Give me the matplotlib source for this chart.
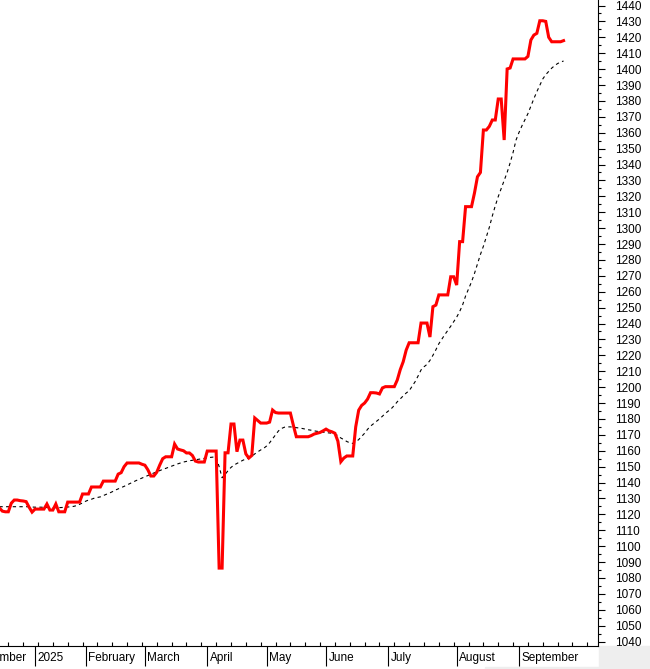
import numpy as np
import matplotlib
matplotlib.use("Agg")
import matplotlib.pyplot as plt
from matplotlib.patches import Rectangle
from matplotlib.ticker import FixedLocator, MultipleLocator, NullFormatter

plt.rcParams["font.family"] = ["Liberation Sans", "DejaVu Sans"]

# daily closes, one per trading session (first one is 12 sessions before 2 Jan 2025)
close = [
    # Dec 2024 (tail)
    1124.0, 1122.0, 1121.6, 1121.6, 1127.0, 1129.0, 1129.0, 1128.6, 1128.4, 1128.0, 1124.5, 1121.4,
    # Jan
    1123.3, 1123.3, 1123.3, 1123.3, 1126.5, 1122.7, 1122.7, 1126.5, 1121.6, 1121.6, 1121.6, 1127.7,
    1127.7, 1127.7, 1127.7, 1127.7, 1132.8,
    # Feb
    1132.8, 1132.8, 1137.2, 1137.2, 1137.2, 1137.2, 1140.9, 1140.9, 1140.9, 1140.9, 1140.9, 1145.3,
    1146.2, 1150.0, 1152.3, 1152.3, 1152.3, 1152.3, 1152.3, 1151.5,
    # Mar
    1150.9, 1148.0, 1144.1, 1144.1, 1146.5, 1151.0, 1155.0, 1156.2, 1156.2, 1156.2, 1164.2, 1161.1,
    1160.5, 1160.0, 1158.6, 1158.6, 1157.0, 1153.5, 1152.9, 1152.9, 1152.9,
    # Apr
    1159.8, 1159.8, 1159.8, 1159.8, 1086.2, 1086.2, 1158.7, 1158.7, 1176.8, 1176.8, 1159.4, 1166.7,
    1166.7, 1158.0, 1155.4, 1157.0, 1180.6, 1179.0, 1177.4, 1177.4,
    # May
    1177.4, 1178.0, 1185.6, 1184.0, 1183.7, 1183.7, 1183.7, 1183.7, 1183.7, 1176.0, 1168.8, 1168.8,
    1168.8, 1168.8, 1168.8, 1169.5, 1170.5, 1171.0, 1171.5, 1172.5,
    # Jun
    1173.6, 1172.5, 1171.9, 1171.0, 1166.0, 1153.1, 1155.4, 1156.7, 1156.7, 1156.7, 1175.0, 1185.5,
    1188.5, 1190.0, 1192.5, 1196.5, 1196.5, 1196.3, 1195.7, 1199.5, 1200.3,
    # Jul
    1200.3, 1200.3, 1200.3, 1204.5, 1211.0, 1216.0, 1223.3, 1227.9, 1227.9, 1227.9, 1227.9, 1240.3,
    1240.3, 1240.3, 1231.5, 1250.6, 1251.6, 1258.0, 1258.0, 1258.0, 1258.0, 1269.4, 1269.4,
    # Aug
    1264.2, 1291.5, 1291.5, 1313.5, 1313.5, 1313.5, 1322.1, 1332.3, 1335.0, 1361.7, 1361.7, 1364.0,
    1368.0, 1368.0, 1381.2, 1381.2, 1355.4, 1400.1, 1400.7, 1406.4, 1406.4,
    # Sep
    1406.4, 1406.4, 1406.4, 1408.0, 1418.3, 1421.4, 1422.5, 1430.4, 1430.4, 1430.0, 1420.0, 1417.2,
    1417.2, 1417.2, 1417.2, 1417.9,
]

# moving average (dashed line)
ma = [
    1124.8, 1124.8, 1124.8, 1124.8, 1124.8, 1124.8, 1124.8, 1124.8, 1124.8, 1124.8, 1124.8, 1124.6,
    1124.5, 1124.5, 1124.5, 1124.4, 1124.3, 1124.3, 1124.2, 1124.2, 1124.2, 1124.3, 1124.4, 1124.6,
    1124.8, 1125.0, 1125.5, 1126.3, 1127.2,
    1128.2, 1129.0, 1129.5, 1130.2, 1130.6, 1131.0, 1131.8, 1132.6, 1133.3, 1134.2, 1135.2, 1136.0,
    1136.8, 1137.6, 1138.5, 1139.4, 1140.3, 1141.2, 1142.0, 1142.8,
    1143.6, 1144.4, 1145.2, 1146.0, 1146.8, 1147.5, 1148.3, 1148.9, 1149.6, 1150.3, 1151.0, 1151.7,
    1152.3, 1152.9, 1153.3, 1153.7, 1154.0, 1154.3, 1154.6, 1154.9, 1155.2,
    1155.5, 1155.8, 1156.0, 1156.0, 1150.0, 1143.0, 1145.0, 1147.5, 1149.5, 1151.0, 1152.0, 1153.0,
    1154.0, 1154.8, 1155.4, 1156.5, 1158.0, 1159.3, 1160.5, 1161.5,
    1163.0, 1165.0, 1167.5, 1170.0, 1172.5, 1174.0, 1174.8, 1175.0, 1175.0, 1174.8, 1174.5, 1174.3,
    1174.0, 1173.6, 1173.2, 1172.9, 1172.5, 1172.2, 1172.0, 1171.7,
    1171.4, 1171.2, 1171.0, 1170.5, 1169.5, 1168.0, 1167.0, 1165.8, 1165.0, 1164.6, 1165.5, 1167.0,
    1169.0, 1171.0, 1173.5, 1175.5, 1177.0, 1178.5, 1180.0, 1181.7, 1183.5,
    1185.0, 1186.5, 1188.5, 1190.8, 1192.6, 1194.5, 1196.3, 1197.7, 1200.5, 1203.4, 1207.0, 1210.8,
    1212.8, 1214.3, 1216.8, 1220.0, 1223.5, 1227.3, 1230.2, 1233.0, 1235.6, 1238.3, 1241.2,
    1244.0, 1247.5, 1251.7, 1257.3, 1261.7, 1266.2, 1271.5, 1277.5, 1283.4, 1288.6, 1294.5, 1300.5,
    1307.6, 1314.0, 1319.8, 1325.0, 1330.0, 1335.0, 1341.0, 1347.6, 1355.4,
    1360.2, 1364.4, 1368.2, 1372.0, 1376.7, 1381.4, 1385.8, 1389.8, 1393.8, 1396.5, 1398.6, 1400.6,
    1402.2, 1403.5, 1404.4, 1405.1,
]

# month labels and the session index where each month starts
month_labels = ["December", "2025", "February", "March", "April", "May",
                "June", "July", "August", "September"]
month_start = [-22, 0, 17, 37, 58, 78, 98, 119, 142, 163]

days = np.arange(len(close)) - 12

fig = plt.figure(figsize=(6.5, 6.69), dpi=100)
ax = fig.add_axes([0.0, 1 - 646 / 669, 598 / 650, 646 / 669])

ax.plot(days, ma, color="black", lw=0.8, linestyle=(0, (3, 3)))
ax.plot(days, close, color="#ff0000", lw=2.2, solid_joinstyle="miter")

ax.set_xlim(-11.8, 189.6)
ax.set_ylim(1037.2, 1443.46)

for s in ["left", "top"]:
    ax.spines[s].set_visible(False)
for s in ["right", "bottom"]:
    ax.spines[s].set_linewidth(0.8)

# y axis on the right
ax.yaxis.tick_right()
ax.yaxis.set_major_locator(MultipleLocator(10))
ax.yaxis.set_minor_locator(MultipleLocator(5))
ax.tick_params(axis="y", which="major", direction="out", length=5, width=0.8,
               labelsize=8.5, pad=7.5)
ax.tick_params(axis="y", which="minor", direction="out", length=2.5, width=0.8)

# x axis: long separators at month starts, small weekly ticks inside
ax.xaxis.set_major_locator(FixedLocator(month_start))
ax.xaxis.set_major_formatter(NullFormatter())
ax.xaxis.set_minor_locator(FixedLocator(np.arange(-20, 190, 5) + 1))
ax.tick_params(axis="x", which="major", direction="out", length=14.5, width=0.8)
ax.tick_params(axis="x", which="minor", direction="in", length=3, width=0.8)

for lab, pos in zip(month_labels, month_start):
    ax.annotate(lab, xy=(pos, 0), xycoords=("data", "axes fraction"),
                xytext=(1.8, -8.8), textcoords="offset points",
                ha="left", va="center", fontsize=8.5, annotation_clip=False)

# grey panel corner bottom right + thin strip at the bottom
fig.patches.append(Rectangle((599 / 650, 0), 51 / 650, 23 / 669,
                             transform=fig.transFigure, color="#eeeeee", zorder=-1))
fig.patches.append(Rectangle((485 / 650, 0), 165 / 650, 2.5 / 669,
                             transform=fig.transFigure, color="#eeeeee", zorder=-1))

fig.savefig("out.png", dpi=100)
